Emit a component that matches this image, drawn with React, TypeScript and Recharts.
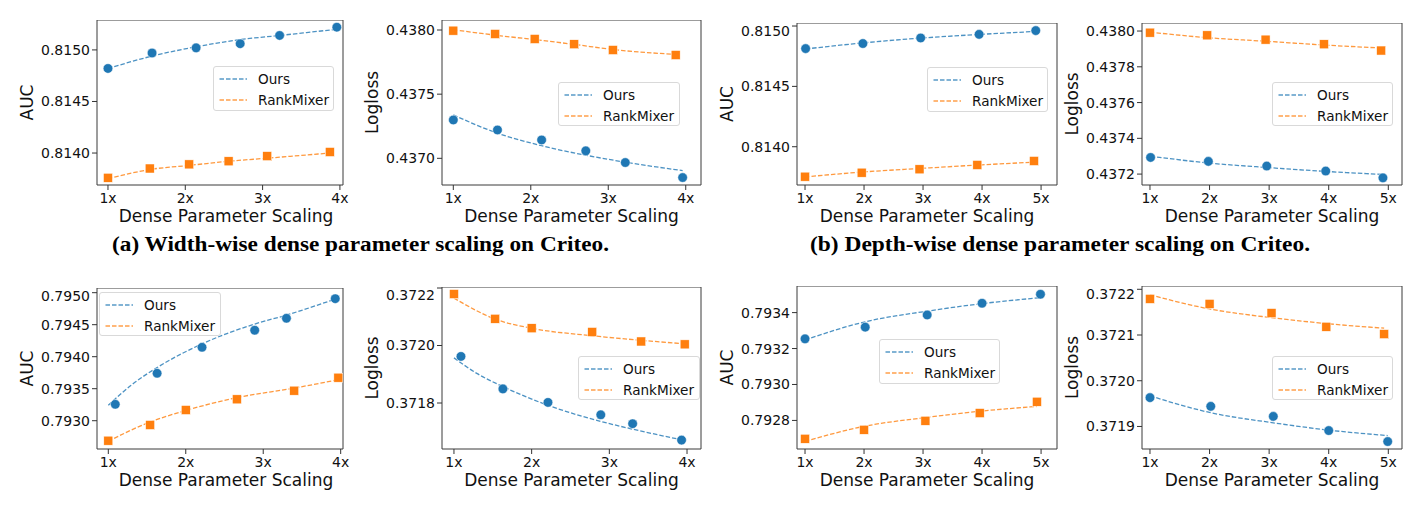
import React from 'react'
import { ComposedChart, Line, Scatter, XAxis, YAxis, ReferenceArea, Legend } from 'recharts'

const BLUE = '#1f77b4'
const ORANGE = '#ff7f0e'
const FONT = '"DejaVu Sans", sans-serif'
const TEXT = '#111'

// (a) width-wise scaling, Criteo
const widthCriteoOursX = [1.0, 1.57, 2.14, 2.71, 3.22, 3.96]
const widthCriteoRankX = [1.0, 1.54, 2.05, 2.56, 3.06, 3.87]
const widthCriteoOursAuc = [0.81482, 0.81497, 0.81502, 0.81506, 0.81514, 0.81522]
const widthCriteoRankAuc = [0.81376, 0.81385, 0.81389, 0.81392, 0.81397, 0.81401]
const widthCriteoOursAucFit = [0.81482, 0.81494, 0.81503, 0.8151, 0.81514, 0.8152]
const widthCriteoRankAucFit = [0.81375, 0.81384, 0.81388, 0.81392, 0.81395, 0.814]
const widthCriteoOursLogloss = [0.437299, 0.437221, 0.437143, 0.437058, 0.436967, 0.43685]
const widthCriteoRankLogloss = [0.437995, 0.437969, 0.43793, 0.437889, 0.437844, 0.437805]
const widthCriteoOursLoglossFit = [0.437338, 0.437196, 0.437098, 0.437024, 0.43697, 0.436904]
const widthCriteoRankLoglossFit = [0.438002, 0.43796, 0.437925, 0.437888, 0.437848, 0.43781]

// (b) depth-wise scaling, Criteo
const depthCriteoOursX = [1.01, 1.98, 2.96, 3.95, 4.91]
const depthCriteoRankX = [1.0, 1.96, 2.94, 3.92, 4.88]
const depthCriteoOursAuc = [0.814813, 0.814855, 0.814901, 0.814931, 0.814962]
const depthCriteoRankAuc = [0.813752, 0.813785, 0.813813, 0.813849, 0.813882]
const depthCriteoOursAucFit = [0.81481, 0.81486, 0.8149, 0.81493, 0.814955]
const depthCriteoRankAucFit = [0.81375, 0.81379, 0.81382, 0.813848, 0.813872]
const depthCriteoOursLogloss = [0.437293, 0.437271, 0.437245, 0.437217, 0.437179]
const depthCriteoRankLogloss = [0.437991, 0.437976, 0.437952, 0.437926, 0.437891]
const depthCriteoOursLoglossFit = [0.4373, 0.437262, 0.437237, 0.437215, 0.437198]
const depthCriteoRankLoglossFit = [0.437994, 0.437963, 0.437943, 0.437922, 0.437905]

// width-wise scaling, second dataset
const widthOursX = [1.09, 1.63, 2.21, 2.89, 3.3, 3.93]
const widthOursFitX = [1.0, 1.3, 1.63, 2.21, 2.89, 3.3, 3.93]
const widthRankAucX = [1.0, 1.54, 2.0, 2.66, 3.4, 3.97]
const widthRankLoglossX = [1.0, 1.53, 2.0, 2.78, 3.41, 3.97]
const widthOursAuc = [0.793256, 0.793741, 0.794147, 0.794413, 0.7946, 0.794906]
const widthRankAuc = [0.792688, 0.792933, 0.793167, 0.793334, 0.793469, 0.793672]
const widthOursAucFit = [0.79324, 0.79356, 0.79383, 0.7942, 0.79451, 0.79465, 0.7949]
const widthRankAucFit = [0.79268, 0.79298, 0.79316, 0.79336, 0.79351, 0.79364]
const widthOursLogloss = [0.371962, 0.371849, 0.371802, 0.371759, 0.371728, 0.371671]
const widthRankLogloss = [0.372179, 0.372093, 0.37206, 0.372047, 0.372014, 0.372004]
const widthOursLoglossFit = [0.371957, 0.371902, 0.371857, 0.371792, 0.371736, 0.371709, 0.371672]
const widthRankLoglossFit = [0.372165, 0.372092, 0.37206, 0.372034, 0.372018, 0.372006]

// depth-wise scaling, second dataset
const depthOursX = [1.0, 2.02, 3.07, 4.0, 4.99]
const depthRankX = [1.0, 2.0, 3.04, 3.96, 4.93]
const depthOursAuc = [0.793254, 0.793319, 0.793387, 0.793452, 0.793502]
const depthRankAuc = [0.792698, 0.792748, 0.792798, 0.792841, 0.792904]
const depthOursAucFit = [0.793248, 0.793349, 0.793408, 0.79345, 0.793483]
const depthRankAucFit = [0.792683, 0.792767, 0.792816, 0.792851, 0.792878]
const depthOursLogloss = [0.371963, 0.371944, 0.371922, 0.371891, 0.371867]
const depthRankLogloss = [0.372179, 0.372168, 0.372148, 0.372118, 0.372102]
const depthOursLoglossFit = [0.371967, 0.37193, 0.371908, 0.371892, 0.37188]
const depthRankLoglossFit = [0.372188, 0.372157, 0.372138, 0.372125, 0.372115]

const widthTicks = [1, 2, 3, 4]
const depthTicks = [1, 2, 3, 4, 5]

const seriesNames = ['Ours', 'RankMixer']
const seriesColors = [BLUE, ORANGE]

const captions = [
  { text: '(a) Width-wise dense parameter scaling on Criteo.', x: 112, len: 497 },
  { text: '(b) Depth-wise dense parameter scaling on Criteo.', x: 810, len: 500 },
]

const zip = (xs: number[], ys: number[]) => xs.map((x, i) => ({ x, y: ys[i] }))

type Pt = { x: number; y: number }
type PanelDef = {
  frame: { x: number; y: number; w: number; h: number }
  xDomain: [number, number]
  xTicks: number[]
  yDomain: [number, number]
  yTicks: number[]
  yLabel: string
  ours: Pt[]
  rank: Pt[]
  oursFit: Pt[]
  rankFit: Pt[]
  legend: { x: number; y: number; w: number; h: number }
  labelDx: number
}

const panels: PanelDef[] = [
  {
    frame: { x: 97, y: 20, w: 246, h: 165 },
    xDomain: [0.858, 4.04],
    xTicks: widthTicks,
    yDomain: [0.81369, 0.81529],
    yTicks: [0.814, 0.8145, 0.815],
    yLabel: 'AUC',
    ours: zip(widthCriteoOursX, widthCriteoOursAuc),
    rank: zip(widthCriteoRankX, widthCriteoRankAuc),
    oursFit: zip(widthCriteoOursX, widthCriteoOursAucFit),
    rankFit: zip(widthCriteoRankX, widthCriteoRankAucFit),
    legend: { x: 213, y: 66, w: 121, h: 45 },
    labelDx: 6,
  },
  {
    frame: { x: 442, y: 20, w: 259, h: 165 },
    xDomain: [0.854, 4.197],
    xTicks: widthTicks,
    yDomain: [0.436792, 0.438078],
    yTicks: [0.437, 0.4375, 0.438],
    yLabel: 'Logloss',
    ours: zip(widthCriteoOursX, widthCriteoOursLogloss),
    rank: zip(widthCriteoRankX, widthCriteoRankLogloss),
    oursFit: zip(widthCriteoOursX, widthCriteoOursLoglossFit),
    rankFit: zip(widthCriteoRankX, widthCriteoRankLoglossFit),
    legend: { x: 558, y: 82, w: 122, h: 44 },
    labelDx: 0,
  },
  {
    frame: { x: 797, y: 23, w: 260, h: 162 },
    xDomain: [0.864, 5.27],
    xTicks: depthTicks,
    yDomain: [0.813683, 0.815025],
    yTicks: [0.814, 0.8145, 0.815],
    yLabel: 'AUC',
    ours: zip(depthCriteoOursX, depthCriteoOursAuc),
    rank: zip(depthCriteoRankX, depthCriteoRankAuc),
    oursFit: zip(depthCriteoOursX, depthCriteoOursAucFit),
    rankFit: zip(depthCriteoRankX, depthCriteoRankAucFit),
    legend: { x: 927, y: 67, w: 121, h: 45 },
    labelDx: 0,
  },
  {
    frame: { x: 1142, y: 23, w: 260, h: 162 },
    xDomain: [0.866, 5.23],
    xTicks: depthTicks,
    yDomain: [0.437139, 0.438045],
    yTicks: [0.4372, 0.4374, 0.4376, 0.4378, 0.438],
    yLabel: 'Logloss',
    ours: zip(depthCriteoOursX, depthCriteoOursLogloss),
    rank: zip(depthCriteoRankX, depthCriteoRankLogloss),
    oursFit: zip(depthCriteoOursX, depthCriteoOursLoglossFit),
    rankFit: zip(depthCriteoRankX, depthCriteoRankLoglossFit),
    legend: { x: 1272, y: 82, w: 121, h: 44 },
    labelDx: 0,
  },
  {
    frame: { x: 97, y: 288, w: 246, h: 161 },
    xDomain: [0.854, 4.03],
    xTicks: widthTicks,
    yDomain: [0.792558, 0.795073],
    yTicks: [0.793, 0.7935, 0.794, 0.7945, 0.795],
    yLabel: 'AUC',
    ours: zip(widthOursX, widthOursAuc),
    rank: zip(widthRankAucX, widthRankAuc),
    oursFit: zip(widthOursFitX, widthOursAucFit),
    rankFit: zip(widthRankAucX, widthRankAucFit),
    legend: { x: 99, y: 292, w: 122, h: 44 },
    labelDx: 6,
  },
  {
    frame: { x: 442, y: 287, w: 259, h: 162 },
    xDomain: [0.846, 4.18],
    xTicks: widthTicks,
    yDomain: [0.37164, 0.3722035],
    yTicks: [0.3718, 0.372, 0.3722],
    yLabel: 'Logloss',
    ours: zip(widthOursX, widthOursLogloss),
    rank: zip(widthRankLoglossX, widthRankLogloss),
    oursFit: zip(widthOursFitX, widthOursLoglossFit),
    rankFit: zip(widthRankLoglossX, widthRankLoglossFit),
    legend: { x: 578, y: 356, w: 122, h: 44 },
    labelDx: 0,
  },
  {
    frame: { x: 797, y: 286, w: 260, h: 163 },
    xDomain: [0.864, 5.27],
    xTicks: depthTicks,
    yDomain: [0.792641, 0.793548],
    yTicks: [0.7928, 0.793, 0.7932, 0.7934],
    yLabel: 'AUC',
    ours: zip(depthOursX, depthOursAuc),
    rank: zip(depthRankX, depthRankAuc),
    oursFit: zip(depthOursX, depthOursAucFit),
    rankFit: zip(depthRankX, depthRankAucFit),
    legend: { x: 879, y: 339, w: 121, h: 45 },
    labelDx: 0,
  },
  {
    frame: { x: 1142, y: 286, w: 260, h: 163 },
    xDomain: [0.866, 5.23],
    xTicks: depthTicks,
    yDomain: [0.3718507, 0.3722072],
    yTicks: [0.3719, 0.372, 0.3721, 0.3722],
    yLabel: 'Logloss',
    ours: zip(depthOursX, depthOursLogloss),
    rank: zip(depthRankX, depthRankLogloss),
    oursFit: zip(depthOursX, depthOursLoglossFit),
    rankFit: zip(depthRankX, depthRankLoglossFit),
    legend: { x: 1272, y: 356, w: 121, h: 44 },
    labelDx: 0,
  },
]

const YW = 100
const XH = 45
const RM = 18 // room on the right so edge tick labels are not clipped
const DASH = '4.5 2'

// eslint-disable-next-line @typescript-eslint/no-explicit-any
const circleShape = (props: any) => (
  <circle cx={props.cx} cy={props.cy} r={4.8} fill={BLUE} stroke="#fff" strokeWidth={0.5} />
)
// eslint-disable-next-line @typescript-eslint/no-explicit-any
const squareShape = (props: any) => (
  <rect x={props.cx - 4.5} y={props.cy - 4.5} width={9} height={9} fill={ORANGE} stroke="#fff" strokeWidth={0.5} />
)

function LegendBox({ w, h }: { w: number; h: number }) {
  return (
    <div
      style={{
        position: 'relative',
        width: w,
        height: h,
        boxSizing: 'border-box',
        border: '1px solid #d9d9d9',
        borderRadius: 3,
        background: 'rgba(255,255,255,0.8)',
        fontFamily: FONT,
        fontSize: 13.6,
        color: TEXT,
      }}
    >
      {seriesNames.map((name, i) => (
        <div
          key={name}
          style={{ position: 'absolute', left: 0, top: 2 + i * 20.7, height: 20, display: 'flex', alignItems: 'center' }}
        >
          <svg width={44} height={20} style={{ display: 'block' }}>
            <line x1={5.5} x2={33} y1={10} y2={10} stroke={seriesColors[i]} strokeOpacity={0.75} strokeWidth={1.3} strokeDasharray={DASH} />
          </svg>
          <span style={{ whiteSpace: 'nowrap', lineHeight: '20px' }}>{name}</span>
        </div>
      ))}
    </div>
  )
}

function Panel({ p }: { p: PanelDef }) {
  const chartLeft = p.frame.x - YW
  const tickStyle = { fontSize: 14, fill: TEXT, fontFamily: FONT }
  return (
    <div style={{ position: 'absolute', left: chartLeft, top: p.frame.y }}>
      <ComposedChart
        width={p.frame.w + YW + RM}
        height={p.frame.h + XH}
        margin={{ top: 0, right: RM, bottom: 0, left: 0 }}
      >
        <XAxis
          type="number"
          dataKey="x"
          domain={p.xDomain}
          ticks={p.xTicks}
          allowDataOverflow
          height={XH}
          axisLine={false}
          tickLine={{ stroke: '#333' }}
          tickSize={5}
          tickMargin={3.5}
          tick={tickStyle}
          tickFormatter={(v: number) => `${v}x`}
          label={{
            value: 'Dense Parameter Scaling',
            position: 'insideBottom',
            offset: 8,
            dx: p.labelDx,
            style: { fontSize: 17, fill: TEXT, fontFamily: FONT },
          }}
        />
        <YAxis
          type="number"
          dataKey="y"
          domain={p.yDomain}
          ticks={p.yTicks}
          allowDataOverflow
          width={YW}
          axisLine={false}
          tickLine={{ stroke: '#333' }}
          tickSize={5}
          tickMargin={2}
          tick={tickStyle}
          tickFormatter={(v: number) => v.toFixed(4)}
          label={{
            value: p.yLabel,
            angle: -90,
            position: 'insideLeft',
            offset: YW - 70,
            style: { fontSize: 17, fill: TEXT, fontFamily: FONT, textAnchor: 'middle' },
          }}
        />
        <ReferenceArea
          x1={p.xDomain[0]}
          x2={p.xDomain[1]}
          y1={p.yDomain[0]}
          y2={p.yDomain[1]}
          fill="none"
          fillOpacity={0}
          stroke="#3a3a3a"
          strokeWidth={1}
          ifOverflow="visible"
        />
        <Line
          data={p.oursFit}
          dataKey="y"
          type="monotone"
          stroke={BLUE}
          strokeOpacity={0.8}
          strokeWidth={1.3}
          strokeDasharray={DASH}
          dot={false}
          activeDot={false}
          isAnimationActive={false}
        />
        <Line
          data={p.rankFit}
          dataKey="y"
          type="monotone"
          stroke={ORANGE}
          strokeOpacity={0.8}
          strokeWidth={1.3}
          strokeDasharray={DASH}
          dot={false}
          activeDot={false}
          isAnimationActive={false}
        />
        <Scatter data={p.ours} shape={circleShape} isAnimationActive={false} />
        <Scatter data={p.rank} shape={squareShape} isAnimationActive={false} />
        <Legend
          layout="vertical"
          align="center"
          verticalAlign="middle"
          content={() => <LegendBox w={p.legend.w} h={p.legend.h} />}
          wrapperStyle={{
            left: p.legend.x - chartLeft,
            top: p.legend.y - p.frame.y,
            width: p.legend.w,
            height: p.legend.h,
          }}
        />
      </ComposedChart>
    </div>
  )
}

export default function App() {
  return (
    <div
      style={{
        position: 'absolute',
        left: 0,
        top: 0,
        width: 1422,
        height: 509,
        background: '#fff',
        overflow: 'hidden',
      }}
    >
      {panels.map((p, i) => (
        <Panel key={i} p={p} />
      ))}
      <svg width={1422} height={509} style={{ position: 'absolute', left: 0, top: 0, pointerEvents: 'none' }}>
        {captions.map((c) => (
          <text
            key={c.text}
            x={c.x}
            y={251}
            fontFamily='"Liberation Serif", serif'
            fontWeight="bold"
            fontSize={20}
            fill="#000"
            textLength={c.len}
            lengthAdjust="spacingAndGlyphs"
          >
            {c.text}
          </text>
        ))}
      </svg>
    </div>
  )
}
